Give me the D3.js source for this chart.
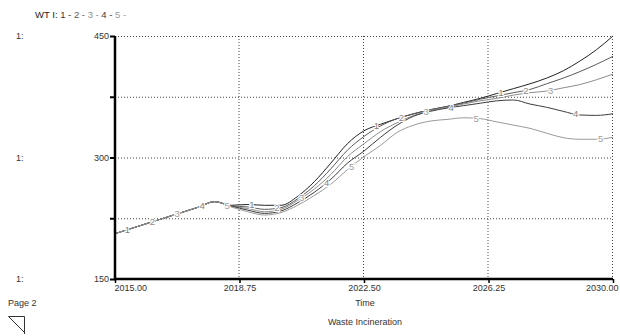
<!DOCTYPE html>
<html>
<head>
<meta charset="utf-8">
<script src="https://cdn.jsdelivr.net/npm/d3@7"></script>
<style>
  body { margin: 0; background: #fff; }
  text { font-family: "Liberation Sans", Arial, sans-serif; }
</style>
</head>
<body>
<div id="chart"></div>
<script>
// time axis (years, half-year steps)
const years = [2015, 2015.5, 2016, 2016.5, 2017, 2017.5, 2018, 2018.5, 2019, 2019.5,
  2020, 2020.5, 2021, 2021.5, 2022, 2022.5, 2023, 2023.5, 2024, 2024.5,
  2025, 2025.5, 2026, 2026.5, 2027, 2027.5, 2028, 2028.5, 2029, 2029.5, 2030];

// WT I, runs 1..5
const run1 = [206, 212.5, 219, 225.5, 232, 238.5, 245.5, 241, 242, 241, 241, 252, 270, 293, 317, 333,
  341, 348, 354, 359, 363, 368, 373, 379, 385, 391, 398, 407, 419, 433, 450];
const run2 = [206, 212.5, 219, 225.5, 232, 238.5, 245.5, 240, 239, 236, 238, 249, 265, 286, 309, 326,
  339, 348, 354, 359, 363, 367, 372, 376, 380, 384, 391, 398, 406, 415, 425];
const run3 = [206, 212.5, 219, 225.5, 232, 238.5, 245.5, 240, 237, 233, 236, 247, 261, 279, 301, 317,
  332, 343, 352, 358, 362, 366, 370, 373, 377, 380, 382, 386, 390, 396, 403];
const run4 = [206, 212.5, 219, 225.5, 232, 238.5, 245.5, 240, 235, 231, 234, 244, 257, 273, 293, 308,
  325, 340, 351, 357, 361, 364, 367, 370, 371, 366, 362, 357, 352.5, 352, 354];
const run5 = [206, 212.5, 219, 225.5, 232, 238.5, 245.5, 239, 233, 229, 232, 241, 253, 267, 285, 301,
  315, 331, 340, 345, 347, 349, 348, 344, 340, 336, 330, 324.5, 322.5, 322.5, 325];

const runNames = ["1", "2", "3", "4", "5"];
const runColors = ["#222", "#5a5a5a", "#8c8c8c", "#3c3c3c", "#9a9a9a"];
const labelColors = ["#808080", "#8a8a8a", "#9a9a9a", "#808080", "#a0a0a0"];

// where the run numbers sit on the curves
const labelTimes = [2015.375, 2016.125, 2016.875, 2017.625, 2018.375, 2019.125, 2019.875, 2020.625,
  2021.375, 2022.125, 2022.875, 2023.625, 2024.375, 2025.125, 2025.875, 2026.625, 2027.375,
  2028.125, 2028.875, 2029.625];

const xTicks = [2015, 2018.75, 2022.5, 2026.25, 2030];
const yTicks = [150, 225, 300, 375, 450];
const yLabelled = [150, 300, 450];

const width = 620, height = 336;
const plotLeft = 115, plotRight = 613, plotTop = 36, plotBottom = 279;

const svg = d3.select('#chart').append('svg')
  .attr('width', width)
  .attr('height', height);

const x = d3.scaleLinear().domain([2015, 2030]).range([plotLeft, plotRight]);
const y = d3.scaleLinear().domain([150, 450]).range([plotBottom, plotTop]);

const runs = [run1, run2, run3, run4, run5];

// grid (dotted)
const grid = svg.append('g').attr('stroke', '#444').attr('stroke-width', 1).attr('stroke-dasharray', '1,2');
grid.selectAll('.hg')
  .data(yTicks.filter(d => d > 150))
  .enter().append('line')
  .attr('x1', plotLeft).attr('x2', plotRight)
  .attr('y1', d => y(d) + 0.5).attr('y2', d => y(d) + 0.5);
grid.selectAll('.vg')
  .data(xTicks.filter(d => d > 2015))
  .enter().append('line')
  .attr('x1', d => x(d) - 0.5).attr('x2', d => x(d) - 0.5)
  .attr('y1', plotTop).attr('y2', plotBottom);

// curves
const line = d3.line()
  .x((d, i) => x(years[i]))
  .y(d => y(d))
  .curve(d3.curveMonotoneX);

svg.append('g').selectAll('path')
  .data(runs)
  .enter().append('path')
  .attr('d', d => line(d))
  .attr('fill', 'none')
  .attr('stroke', (d, i) => runColors[i])
  .attr('stroke-width', 1);

// run numbers on the curves
const valueAt = (arr, t) => {
  const i = Math.min(d3.bisectRight(years, t), years.length - 1);
  const t0 = years[i - 1], t1 = years[i];
  return arr[i - 1] + (arr[i] - arr[i - 1]) * (t - t0) / (t1 - t0);
};
svg.append('g').selectAll('text')
  .data(labelTimes)
  .enter().append('text')
  .attr('x', d => x(d))
  .attr('y', (d, k) => y(valueAt(runs[k % 5], d)))
  .attr('dy', '0.35em')
  .attr('text-anchor', 'middle')
  .attr('font-size', 9.5)
  .attr('fill', (d, k) => labelColors[k % 5])
  .attr('stroke', '#fff')
  .attr('stroke-width', 2)
  .attr('paint-order', 'stroke')
  .text((d, k) => runNames[k % 5]);

// axes
const yAxis = svg.append('g')
  .attr('transform', `translate(${plotLeft},0)`)
  .call(d3.axisLeft(y).tickValues(yTicks).tickSize(5)
    .tickFormat(d => yLabelled.includes(d) ? d : ''));
yAxis.select('.domain').attr('stroke', '#000').attr('stroke-width', 2.5)
  .attr('d', `M0,${plotTop}V${plotBottom + 1}`);
yAxis.selectAll('.tick line').attr('stroke', '#000').attr('stroke-width', 2);
yAxis.selectAll('.tick text').attr('x', -6).attr('font-size', 9).attr('fill', '#333')
  .attr('font-family', '"Liberation Sans", Arial, sans-serif');

const xAxis = svg.append('g')
  .attr('transform', `translate(0,${plotBottom})`)
  .call(d3.axisBottom(x).tickValues(xTicks).tickSize(4).tickFormat(d3.format('.2f')));
xAxis.select('.domain').attr('stroke', '#000').attr('stroke-width', 2.5)
  .attr('d', `M${plotLeft - 1},0H${plotRight}`);
xAxis.selectAll('.tick line').attr('stroke', '#000').attr('stroke-width', 1.5);
xAxis.selectAll('.tick text')
  .attr('y', 6)
  .attr('font-size', 9).attr('fill', '#333')
  .attr('font-family', '"Liberation Sans", Arial, sans-serif')
  .attr('text-anchor', (d, i) => i === 0 ? 'start' : (i === xTicks.length - 1 ? 'end' : 'middle'))
  .attr('dx', (d, i) => i === 0 ? -1 : (i === xTicks.length - 1 ? 5 : 0));

// "1:" scale markers on the left
svg.append('g').selectAll('text')
  .data(yLabelled)
  .enter().append('text')
  .attr('x', 16)
  .attr('y', d => y(d))
  .attr('dy', '0.35em')
  .attr('font-size', 9)
  .attr('fill', '#333')
  .text('1:');

// legend
const legend = svg.append('text').attr('x', 35).attr('y', 18).attr('font-size', 9.5);
legend.append('tspan').attr('fill', '#222').text('WT I: ');
runNames.forEach((n, i) => {
  legend.append('tspan').attr('fill', runColors[i] === '#222' ? '#333' : runColors[i]).text(n + ' - ');
});

// titles
svg.append('text').attr('x', 365).attr('y', 306).attr('text-anchor', 'middle')
  .attr('font-size', 9).attr('fill', '#333').text('Time');
svg.append('text').attr('x', 365).attr('y', 325).attr('text-anchor', 'middle')
  .attr('font-size', 9).attr('fill', '#333').text('Waste Incineration');
svg.append('text').attr('x', 8).attr('y', 306)
  .attr('font-size', 9).attr('fill', '#333').text('Page 2');

// page turn icon
svg.append('path')
  .attr('d', 'M8.5,316.5H24.5V334M8.5,316.5L24.5,332.5')
  .attr('fill', 'none').attr('stroke', '#333').attr('stroke-width', 1);
</script>
</body>
</html>
